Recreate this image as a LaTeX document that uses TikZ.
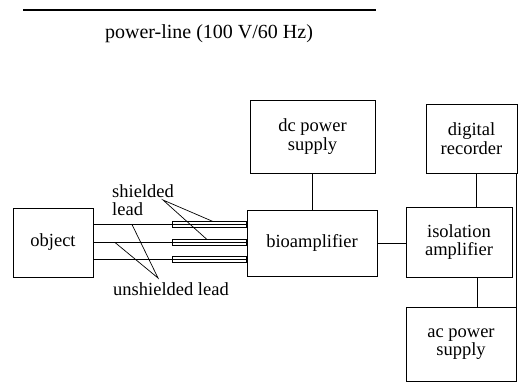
\documentclass[tikz,border=0pt]{standalone}
\usepackage{fontspec}
\setmainfont{Liberation Serif}

\begin{document}
\begin{tikzpicture}[x=1pt,y=-1pt,
  blk/.style={draw, line width=0.8pt, align=center, inner sep=0pt, font=\fontsize{18.5}{18.5}\selectfont},
  wire/.style={line width=0.7pt},
  lbl/.style={align=left, inner sep=0pt, font=\fontsize{18.5}{18.5}\selectfont}]
\useasboundingbox (0,0) rectangle (518,383);
% power line
\coordinate (pl1) at (23,9.5);
\coordinate (pl2) at (376,9.5);
\draw[line width=2pt] (pl1) -- (pl2);
\node[lbl, font=\fontsize{20}{22}\selectfont] (pltxt) at (209,34) {power-line (100 V/60 Hz)};
% blocks
\node[blk, minimum width=80, minimum height=69] (obj) at (53,242.5) {object};
\node[blk, minimum width=130, minimum height=66] (bio) at (312,243) {bioamplifier};
\node[blk, minimum width=125, minimum height=73] (dcps) at (312.5,136.5) {dc power\\supply};
\node[blk, minimum width=91, minimum height=69] (rec) at (471.5,138.5) {digital\\recorder};
\node[blk, minimum width=106, minimum height=70] (iso) at (459,242) {isolation\\amplifier};
\node[blk, minimum width=110, minimum height=74.5] (acps) at (461,344.25) {ac power\\supply};
% connections
\draw[wire] (dcps.south) -- (dcps.south |- bio.north);
\draw[wire] (bio.east) -- (bio.east -| iso.west);
\draw[wire] (rec.south -| 476,0) -- (iso.north -| 476,0);
\draw[wire] (iso.south -| 477,0) -- (acps.north -| 477,0);
\draw[wire] (rec.south -| 516,0) -- (acps.north -| 516,0);
% leads and shields
\foreach \y [count=\i] in {224.5,242.5,259.5}{
  \coordinate (la\i) at (obj.east |- 0,\y);
  \coordinate (lb\i) at (bio.west |- 0,\y);
  \coordinate (sa\i) at (172,\y-3);
  \coordinate (sb\i) at (bio.west |- 0,\y+3);
  \draw[wire] (la\i) -- (lb\i);
  \draw[wire] (sa\i) rectangle (sb\i);
}
% labels
\node[lbl, anchor=north west] (shtxt) at (112,184) {shielded\\lead};
\node[lbl] (ustxt) at (171,289) {unshielded lead};
\coordinate (shtip) at (163,200);
\coordinate (sh1p) at (213,221.5);
\coordinate (sh2p) at (207,239.5);
\draw[wire] (sh1p) -- (shtip) -- (sh2p);
\coordinate (ustip) at (158,278);
\coordinate (us1p) at (132,224.5);
\coordinate (us2p) at (115,242.5);
\draw[wire] (us1p) -- (ustip) -- (us2p);
\end{tikzpicture}
\end{document}
